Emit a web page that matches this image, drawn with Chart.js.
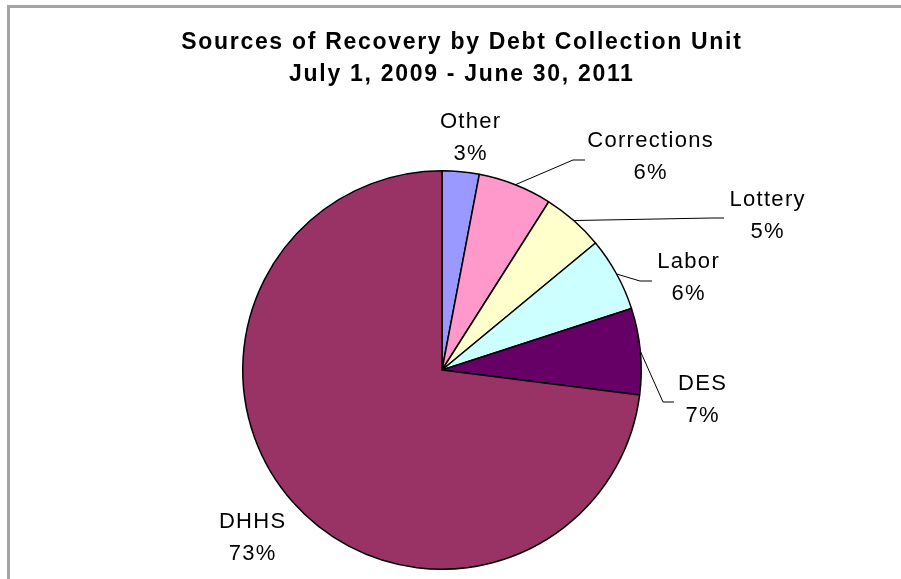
<!DOCTYPE html>
<html>
<head>
<meta charset="utf-8">
<script src="https://cdn.jsdelivr.net/npm/chart.js@4/dist/chart.umd.min.js"></script>
<style>
  html, body { margin: 0; padding: 0; background: #fff; }
  #wrap { position: relative; width: 901px; height: 579px; overflow: hidden; }
  #frame { position: absolute; left: 7px; top: 5px; right: -10px; bottom: -10px;
           border-top: 3px solid #a3a3a3; border-left: 3px solid #a3a3a3; pointer-events: none; }
  canvas { position: absolute; left: 0; top: 0; }
</style>
</head>
<body>
<div id="wrap">
  <canvas id="recoveryChart" width="901" height="579"></canvas>
  <div id="frame"></div>
</div>
<script>
const sources = ['Other', 'Corrections', 'Lottery', 'Labor', 'DES', 'DHHS'];
const shares = [3, 6, 5, 6, 7, 73];
const sliceColors = ['#9999FF', '#FF99CC', '#FFFFCC', '#CCFFFF', '#660066', '#993366'];
const titleLines = ['Sources of Recovery by Debt Collection Unit', 'July 1, 2009 - June 30, 2011'];

// label block centre (x, first-line y) and optional leader elbow, per slice
const labelSpots = [
    { x: 470, y: 122, elbow: null },
    { x: 650, y: 141, elbow: [573, 160, 585, 160] },
    { x: 767, y: 200, elbow: [712, 218, 724, 218] },
    { x: 688, y: 262, elbow: [640, 281, 652, 281] },
    { x: 702, y: 384, elbow: [663, 402, 674, 402] },
    { x: 252, y: 522, elbow: null }
];

function spacedText(ctx, text, x, y, spacing) {
    ctx.letterSpacing = spacing + 'px';
    // trailing spacing is added after the last glyph, shift back by half of it
    ctx.fillText(text, x + spacing / 2, y);
    ctx.letterSpacing = '0px';
}

const calloutPlugin = {
    id: 'callouts',
    afterDraw(chart) {
        const ctx = chart.ctx;
        const arcs = chart.getDatasetMeta(0).data;
        ctx.save();

        // title
        ctx.fillStyle = '#000';
        ctx.textAlign = 'center';
        ctx.textBaseline = 'middle';
        ctx.font = 'bold 23px "Liberation Sans", Arial, sans-serif';
        spacedText(ctx, titleLines[0], 461, 43, 1.7);
        spacedText(ctx, titleLines[1], 461, 75, 1.7);

        ctx.font = '22px "Liberation Sans", Arial, sans-serif';
        arcs.forEach((arc, i) => {
            const spot = labelSpots[i];
            const mid = (arc.startAngle + arc.endAngle) / 2;
            if (spot.elbow) {
                const sx = arc.x + Math.cos(mid) * arc.outerRadius;
                const sy = arc.y + Math.sin(mid) * arc.outerRadius;
                ctx.strokeStyle = '#000';
                ctx.lineWidth = 1;
                ctx.beginPath();
                ctx.moveTo(sx, sy);
                ctx.lineTo(spot.elbow[0], spot.elbow[1]);
                ctx.lineTo(spot.elbow[2], spot.elbow[3]);
                ctx.stroke();
            }
            ctx.fillStyle = '#000';
            spacedText(ctx, sources[i], spot.x, spot.y, 1.3);
            spacedText(ctx, shares[i] + '%', spot.x, spot.y + 32, 1.3);
        });
        ctx.restore();
    }
};

new Chart(document.getElementById('recoveryChart').getContext('2d'), {
    type: 'pie',
    data: {
        labels: sources,
        datasets: [{
            data: shares,
            backgroundColor: sliceColors,
            borderColor: '#000',
            borderWidth: 1.5
        }]
    },
    options: {
        responsive: false,
        animation: false,
        events: [],
        layout: { padding: { left: 100, right: 117, top: 170, bottom: 9 } },
        plugins: {
            legend: { display: false },
            title: { display: false },
            tooltip: { enabled: false }
        }
    },
    plugins: [calloutPlugin]
});
</script>
</body>
</html>
